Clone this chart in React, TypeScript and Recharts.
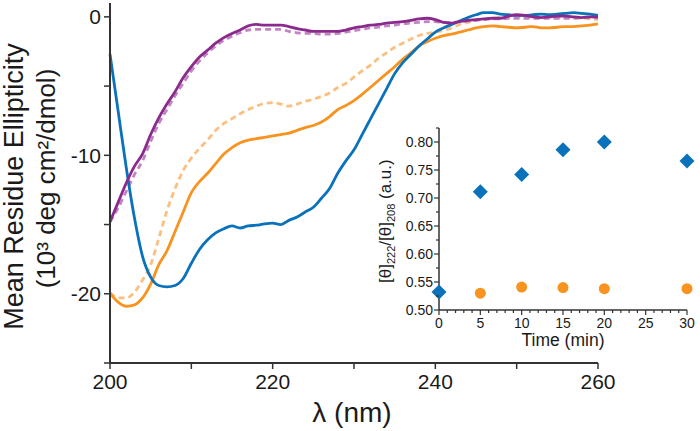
import React from 'react';
import { LineChart, Line, XAxis, YAxis, ScatterChart, Scatter } from 'recharts';

const FONT = '"Liberation Sans", Arial, sans-serif';

// CD spectra, 200-260 nm, values in 10^3 deg cm2/dmol
const wavelengths = [
  200, 201, 202, 203, 204, 205, 206, 207, 208, 209, 210, 211, 212, 213, 214, 215, 216, 217, 218, 219,
  220, 221, 222, 223, 224, 225, 226, 227, 228, 229, 230, 231, 232, 233, 234, 235, 236, 237, 238, 239,
  240, 241, 242, 243, 244, 245, 246, 247, 248, 249, 250, 251, 252, 253, 254, 255, 256, 257, 258, 259, 260,
];
const blueSolid = [
  -2.7, -6.8, -10.9, -14.5, -17.3, -18.8, -19.4, -19.5, -19.4, -18.9, -17.8, -16.8, -16.1, -15.6, -15.3, -15.1, -15.25, -15.1, -15.05, -14.95,
  -14.9, -15.0, -14.7, -14.45, -14.1, -13.75, -13.1, -12.4, -11.3, -10.4, -9.6, -8.5, -7.4, -6.3, -5.2, -4.1, -3.3, -2.7, -2.1, -1.6,
  -1.1, -0.8, -0.55, -0.3, -0.05, 0.15, 0.3, 0.3, 0.2, 0.15, 0.1, 0.1, 0.15, 0.2, 0.15, 0.2, 0.25, 0.3, 0.25, 0.2, 0.1,
];
const orangeSolid = [
  -19.95, -20.6, -20.9, -20.8, -20.3, -19.3, -17.9, -16.9, -15.5, -14.1, -12.7, -11.9, -11.3, -10.6, -9.9, -9.45, -9.1, -8.9, -8.8, -8.7,
  -8.6, -8.5, -8.4, -8.2, -8.0, -7.85, -7.6, -7.2, -6.7, -6.4, -6.05, -5.6, -5.1, -4.6, -4.1, -3.6, -3.05, -2.6, -2.1, -1.8,
  -1.55, -1.35, -1.25, -1.1, -0.95, -0.8, -0.7, -0.65, -0.7, -0.75, -0.8, -0.75, -0.7, -0.8, -0.8, -0.75, -0.7, -0.7, -0.65, -0.6, -0.5,
];
const orangeDashed = [
  -19.95, -20.3, -20.3, -19.9, -19.0, -17.9, -16.0, -14.0, -12.4, -11.1, -10.2, -9.5, -8.9, -8.2, -7.7, -7.35, -7.0, -6.7, -6.45, -6.25,
  -6.2, -6.3, -6.45, -6.3, -6.1, -5.95, -5.75, -5.5, -5.1, -4.8, -4.35, -3.9, -3.5, -3.0, -2.6, -2.2, -1.9, -1.6, -1.35, -1.2,
  -1.1, -1.0, -0.8, -0.55, -0.4, -0.25, -0.15, -0.1, -0.05, 0.0, 0.0, 0.0, 0.0, 0.0, 0.0, -0.05, -0.05, -0.1, -0.1, -0.15, -0.2,
];
const purpleSolid = [
  -14.8, -13.4, -12.0, -10.8, -9.9, -8.5, -7.3, -6.3, -5.4, -4.4, -3.6, -2.9, -2.4, -1.9, -1.5, -1.2, -0.95, -0.65, -0.55, -0.6,
  -0.6, -0.6, -0.7, -0.85, -0.95, -1.05, -1.05, -1.05, -1.05, -0.95, -0.8, -0.7, -0.6, -0.55, -0.45, -0.4, -0.35, -0.25, -0.15, -0.1,
  -0.2, -0.4, -0.45, -0.35, -0.25, -0.2, -0.15, -0.1, -0.1, 0.05, 0.15, 0.1, 0.0, -0.05, 0.0, 0.05, 0.05, 0.0, -0.05, 0.0, 0.0,
];
const purpleDashed = [
  -14.8, -13.8, -12.6, -11.4, -10.4, -9.0, -7.7, -6.7, -5.7, -4.8, -3.9, -3.2, -2.6, -2.1, -1.7, -1.4, -1.15, -0.95, -0.9, -0.9,
  -0.9, -0.9, -1.05, -1.15, -1.2, -1.2, -1.25, -1.25, -1.2, -1.1, -1.0, -0.9, -0.8, -0.75, -0.65, -0.6, -0.5, -0.45, -0.4, -0.35,
  -0.35, -0.4, -0.4, -0.35, -0.3, -0.25, -0.2, -0.15, -0.15, -0.1, -0.1, -0.1, -0.1, -0.1, -0.1, -0.1, -0.1, -0.1, -0.05, -0.05, -0.1,
];

const xTicks = [200, 210, 220, 230, 240, 250, 260];
const xLabeled = [200, 220, 240, 260];
const yTicks = [-25, -20, -15, -10, -5, 0];
const yLabeled = [-20, -10, 0];

// inset: [θ]222/[θ]208 ratio vs time
const blueTimes = [0, 5, 10, 15, 20, 30];
const blueRatio = [0.532, 0.711, 0.742, 0.786, 0.8, 0.766];
const orangeTimes = [5, 10, 15, 20, 30];
const orangeRatio = [0.53, 0.541, 0.54, 0.538, 0.538];
const insetXTicks = [
  0, 1, 2, 3, 4, 5, 6, 7, 8, 9, 10, 11, 12, 13, 14, 15, 16, 17, 18, 19, 20, 21, 22, 23, 24, 25, 26, 27, 28, 29, 30,
];
const insetYTicks = [0.5, 0.525, 0.55, 0.575, 0.6, 0.625, 0.65, 0.675, 0.7, 0.725, 0.75, 0.775, 0.8, 0.825];

const C = {
  blue: '#0a72ba',
  orange: '#f7931e',
  orangeLight: '#fbbf80',
  purple: '#8b2a8d',
  purpleLight: '#c085c2',
  axis: '#333333',
  text: '#1a1a1a',
};

const spectra = wavelengths.map((nm, i) => ({
  nm,
  blue: blueSolid[i],
  orange: orangeSolid[i],
  orangeDash: orangeDashed[i],
  purple: purpleSolid[i],
  purpleDash: purpleDashed[i],
}));

const bluePts = blueTimes.map((t, i) => ({ t, r: blueRatio[i] }));
const orangePts = orangeTimes.map((t, i) => ({ t, r: orangeRatio[i] }));

const InsetXTick = (props: any) => {
  const { x, y, payload } = props;
  const major = payload.value % 5 === 0;
  return (
    <g>
      <line x1={x} x2={x} y1={y} y2={y + (major ? 5 : 3)} stroke={C.axis} strokeWidth={1.2} />
      {major && (
        <text x={x} y={y + 18} textAnchor="middle" fontSize={14} fontFamily={FONT} fill={C.text}>
          {payload.value}
        </text>
      )}
    </g>
  );
};

const InsetYTick = (props: any) => {
  const { x, y, payload } = props;
  const major = Math.round(payload.value * 1000) % 50 === 0;
  return (
    <g>
      <line x1={x} x2={x - (major ? 5 : 3)} y1={y} y2={y} stroke={C.axis} strokeWidth={1.2} />
      {major && (
        <text x={x - 6} y={y} dy="0.35em" textAnchor="end" fontSize={14} fontFamily={FONT} fill={C.text}>
          {payload.value.toFixed(2)}
        </text>
      )}
    </g>
  );
};

const Diamond = (props: any) => {
  const { cx, cy } = props;
  const h = 7.5;
  return <polygon points={`${cx},${cy - h} ${cx + h},${cy} ${cx},${cy + h} ${cx - h},${cy}`} fill={C.blue} />;
};

const Dot = (props: any) => <circle cx={props.cx} cy={props.cy} r={5.5} fill={C.orange} />;

const App = () => {
  return (
    <div style={{ position: 'absolute', left: 0, top: 0, width: 700, height: 431, background: '#fff' }}>
      <div style={{ position: 'absolute', left: 0, top: 0 }}>
        <LineChart width={700} height={431} data={spectra} margin={{ top: 3, right: 102, bottom: 38, left: 50 }}>
          <XAxis
            type="number"
            dataKey="nm"
            domain={[200, 260]}
            ticks={xTicks}
            interval={0}
            tickFormatter={(v: number) => (xLabeled.includes(v) ? String(v) : '')}
            height={30}
            tickSize={6}
            tickMargin={5}
            axisLine={{ stroke: C.axis, strokeWidth: 2 }}
            tickLine={{ stroke: C.axis, strokeWidth: 1.5 }}
            tick={{ fontSize: 21, fill: C.text, fontFamily: FONT }}
          />
          <YAxis
            type="number"
            domain={[-25, 1]}
            allowDataOverflow
            ticks={yTicks}
            interval={0}
            tickFormatter={(v: number) => (yLabeled.includes(v) ? String(v) : '')}
            width={60}
            tickSize={6}
            tickMargin={3}
            axisLine={{ stroke: C.axis, strokeWidth: 2 }}
            tickLine={{ stroke: C.axis, strokeWidth: 1.5 }}
            tick={{ fontSize: 21, fill: C.text, fontFamily: FONT }}
          />
          <Line type="monotone" dataKey="orangeDash" stroke={C.orangeLight} strokeWidth={2.8} strokeDasharray="6 4" dot={false} isAnimationActive={false} />
          <Line type="monotone" dataKey="purpleDash" stroke={C.purpleLight} strokeWidth={2.8} strokeDasharray="6 4" dot={false} isAnimationActive={false} />
          <Line type="monotone" dataKey="orange" stroke={C.orange} strokeWidth={2.8} dot={false} isAnimationActive={false} />
          <Line type="monotone" dataKey="blue" stroke={C.blue} strokeWidth={2.8} dot={false} isAnimationActive={false} />
          <Line type="monotone" dataKey="purple" stroke={C.purple} strokeWidth={2.8} dot={false} isAnimationActive={false} />
        </LineChart>
      </div>

      <div style={{ position: 'absolute', left: 370, top: 120 }}>
        <ScatterChart width={330} height={240} margin={{ top: 8, right: 13, bottom: 20, left: 39 }}>
          <XAxis
            type="number"
            dataKey="t"
            domain={[0, 30]}
            ticks={insetXTicks}
            interval={0}
            height={30}
            tickSize={0}
            tickMargin={0}
            axisLine={{ stroke: C.axis, strokeWidth: 1.5 }}
            tickLine={false}
            tick={<InsetXTick />}
          />
          <YAxis
            type="number"
            dataKey="r"
            domain={[0.5, 0.825]}
            allowDataOverflow
            ticks={insetYTicks}
            interval={0}
            width={30}
            tickSize={0}
            tickMargin={0}
            axisLine={{ stroke: C.axis, strokeWidth: 1.5 }}
            tickLine={false}
            tick={<InsetYTick />}
          />
          <Scatter data={orangePts} shape={<Dot />} isAnimationActive={false} />
          <Scatter data={bluePts} shape={<Diamond />} isAnimationActive={false} />
        </ScatterChart>
      </div>

      <svg width={700} height={431} style={{ position: 'absolute', left: 0, top: 0, pointerEvents: 'none' }} fontFamily={FONT} fill={C.text}>
        <text transform="translate(22.5,186.5) rotate(-90)" textAnchor="middle" fontSize={27}>
          Mean Residue Ellipticity
        </text>
        <text transform="translate(55,178.5) rotate(-90)" textAnchor="middle" fontSize={26}>
          (10³ deg cm²/dmol)
        </text>
        <text x={352} y={422} textAnchor="middle" fontSize={28}>
          λ (nm)
        </text>
        <text x={563} y={346} textAnchor="middle" fontSize={17.5}>
          Time (min)
        </text>
        <text transform="translate(391,283) rotate(-90)" textAnchor="start" fontSize={17}>
          [θ]
          <tspan fontSize={11} dy={4}>222</tspan>
          <tspan dy={-4}>/[θ]</tspan>
          <tspan fontSize={11} dy={4}>208</tspan>
          <tspan dy={-4}> (a.u.)</tspan>
        </text>
      </svg>
    </div>
  );
};

export default App;
